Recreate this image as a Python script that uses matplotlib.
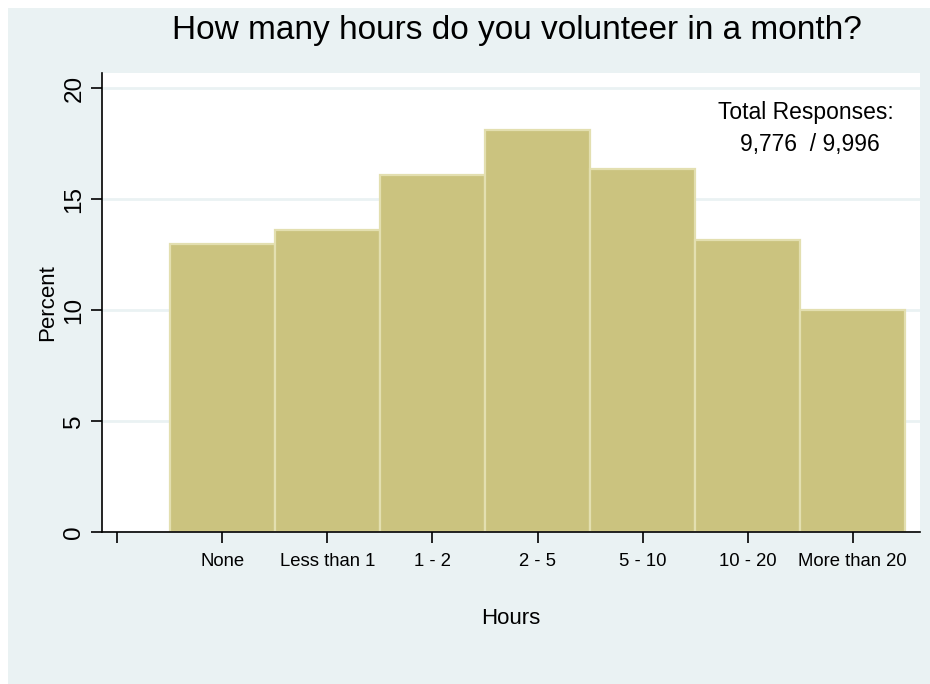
import numpy as np
import matplotlib
matplotlib.use("Agg")
import matplotlib.pyplot as plt
from matplotlib.patches import Rectangle

plt.rcParams['font.family'] = ['Liberation Sans', 'DejaVu Sans']

# survey answers and share of respondents (percent)
categories = ["None", "Less than 1", "1 - 2", "2 - 5", "5 - 10", "10 - 20", "More than 20"]
percents = [12.99, 13.59, 16.07, 18.10, 16.34, 13.17, 9.98]
answered = "9,776"
total = "9,996"

bg = "#eaf2f3"
bar_face = "#cbc37f"
bar_edge = "#e3dfb0"

fig = plt.figure(figsize=(9.3, 6.84), dpi=100)
fig.patch.set_facecolor("white")
fig.patches.append(Rectangle((8 / 930, 0), 1, 1 - 8 / 684, transform=fig.transFigure,
                             facecolor=bg, edgecolor="none", zorder=-10))

ax = fig.add_axes([102 / 930, 1 - 531.7 / 684, (920 - 102) / 930, (531.7 - 72.7) / 684])
ax.set_facecolor("white")

pos = np.arange(1, len(categories) + 1)
ax.bar(pos, percents, width=1.0, color=bar_face, edgecolor=bar_edge, linewidth=1.6, zorder=3)

ax.set_xlim(-0.146, 7.641)
ax.set_ylim(0, 20.70)

ax.set_yticks([0, 5, 10, 15, 20])
ax.set_yticklabels(["0", "5", "10", "15", "20"], rotation=90, va="center", fontsize=17.5)
ax.set_xticks(np.concatenate([[0], pos]))
ax.set_xticklabels([""] + categories, fontsize=13.3)
ax.tick_params(axis="y", length=8, width=1.2, pad=4)
ax.tick_params(axis="x", length=8, width=1.2, pad=7)

ax.grid(axis="y", color=bg, linewidth=2, zorder=0)
ax.set_axisbelow(True)
for s in ["top", "right"]:
    ax.spines[s].set_visible(False)
for s in ["left", "bottom"]:
    ax.spines[s].set_linewidth(1.2)
    ax.spines[s].set_zorder(5)

ax.set_ylabel("Percent", fontsize=16, labelpad=4)
ax.set_xlabel("Hours", fontsize=16, labelpad=28)

fig.text(517 / 930, 1 - 31 / 684, "How many hours do you volunteer in a month?",
         fontsize=24, ha="center", va="center")

ax.text(0.968, 0.913, "Total Responses:", transform=ax.transAxes,
        fontsize=16.5, ha="right", va="center")
ax.text(0.780, 0.843, f"{answered}  / {total}", transform=ax.transAxes,
        fontsize=16.5, ha="left", va="center")

fig.savefig("out.png", dpi=100)
